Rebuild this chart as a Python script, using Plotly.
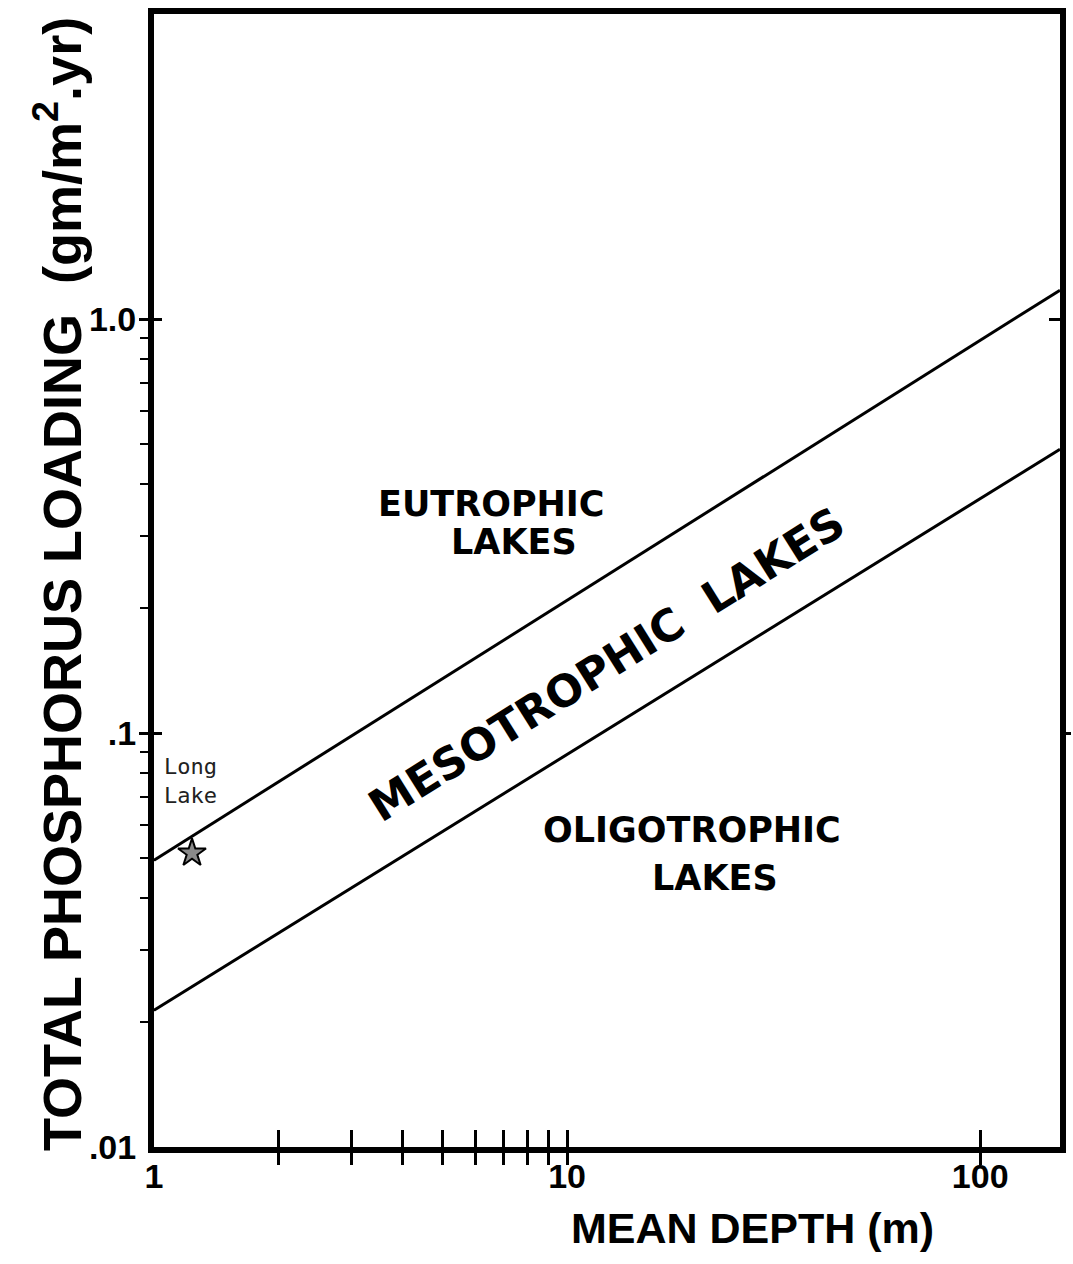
import math
import plotly.graph_objects as go

# ---- data ----
depth_range = [1, 156]                 # mean depth axis extent (m)
load_range = [0.01, 5.46]              # phosphorus loading axis extent
upper_x = [1, 156]                     # "dangerous" loading boundary
upper_y = [0.0493, 1.175]
lower_x = [1, 156]                     # "permissible" loading boundary
lower_y = [0.0214, 0.485]
lake_x = [1.236]                       # Long Lake
lake_y = [0.0513]
lake_name = ["Long<br>Lake"]

x_tick_vals = [1, 10, 100]
x_tick_text = ["1", "10", "100"]
x_mark_vals = [2, 3, 4, 5, 6, 7, 8, 9, 10, 100]
y_tick_vals = [0.01, 0.1, 1]
y_tick_text = [".01", ".1", "1.0"]
y_minor_vals = [0.02, 0.03, 0.04, 0.05, 0.06, 0.07, 0.08, 0.09,
                0.2, 0.3, 0.4, 0.5, 0.6, 0.7, 0.8, 0.9]
y_major_marks = [0.1, 1]

SANS = "Liberation Sans, Arial, Helvetica, sans-serif"
REGION = "DejaVu Sans, Verdana, sans-serif"

xr = [math.log10(v) for v in depth_range]
yr = [math.log10(v) for v in load_range]

fig = go.Figure()
fig.add_trace(go.Scatter(x=upper_x, y=upper_y, mode="lines",
                         line=dict(color="black", width=3), hoverinfo="skip"))
fig.add_trace(go.Scatter(x=lower_x, y=lower_y, mode="lines",
                         line=dict(color="black", width=3), hoverinfo="skip"))
fig.add_trace(go.Scatter(x=lake_x, y=lake_y, mode="markers",
                         marker=dict(symbol="star", size=21, color="#8a8a8a",
                                     line=dict(color="black", width=2)),
                         hoverinfo="skip"))
# invisible traces to activate overlay axes
fig.add_trace(go.Scatter(x=lake_x, y=lake_y, mode="markers", marker=dict(opacity=0),
                         xaxis="x2", yaxis="y2", hoverinfo="skip"))
fig.add_trace(go.Scatter(x=lake_x, y=lake_y, mode="markers", marker=dict(opacity=0),
                         xaxis="x", yaxis="y3", hoverinfo="skip"))

tickfont = dict(family=SANS, size=34, color="black", weight="bold")

L, R, T, B = 154, 13, 14, 117
fig.update_layout(
    width=1073, height=1264,
    margin=dict(l=L, r=R, t=T, b=B),
    paper_bgcolor="white", plot_bgcolor="white",
    showlegend=False,
    xaxis=dict(type="log", range=xr, showgrid=False, zeroline=False, automargin=False,
               showline=True, mirror=True, linecolor="black", linewidth=6,
               tickmode="array", tickvals=x_tick_vals, ticktext=x_tick_text,
               ticks="", tickfont=tickfont, ticklabelstandoff=-6,
               minor=dict(tickmode="array", tickvals=x_mark_vals, ticks="outside",
                          ticklen=12, tickwidth=2.5, tickcolor="black", showgrid=False)),
    xaxis2=dict(type="log", range=xr, overlaying="x", anchor="y", side="bottom",
                automargin=False,
                showgrid=False, zeroline=False, showline=False, showticklabels=False,
                tickmode="array", tickvals=x_mark_vals, ticks="inside",
                ticklen=17, tickwidth=2.5, tickcolor="black"),
    yaxis=dict(type="log", range=yr, showgrid=False, zeroline=False, automargin=False,
               showline=True, mirror=True, linecolor="black", linewidth=6,
               tickmode="array", tickvals=y_tick_vals, ticktext=y_tick_text,
               ticks="", tickfont=tickfont, ticklabelstandoff=5,
               minor=dict(tickmode="array", tickvals=y_minor_vals, ticks="outside",
                          ticklen=8, tickwidth=2, tickcolor="black", showgrid=False)),
    yaxis2=dict(type="log", range=yr, overlaying="y", anchor="x", side="left",
                automargin=False,
                showgrid=False, zeroline=False, showline=False, showticklabels=False,
                tickmode="array", tickvals=y_major_marks, ticks="inside",
                ticklen=8, tickwidth=2.5, tickcolor="black",
                minor=dict(tickmode="array", tickvals=y_major_marks, ticks="outside",
                           ticklen=14, tickwidth=2.5, tickcolor="black", showgrid=False)),
    yaxis3=dict(type="log", range=yr, overlaying="y", anchor="x", side="right",
                automargin=False,
                showgrid=False, zeroline=False, showline=False, showticklabels=False,
                tickmode="array", tickvals=[y_major_marks[1]], ticks="inside",
                ticklen=11, tickwidth=2.5, tickcolor="black",
                minor=dict(tickmode="array", tickvals=[y_major_marks[0]], ticks="outside",
                           ticklen=10, tickwidth=2.5, tickcolor="black", showgrid=False)),
)

W = 1073.0 - L - R
H = 1264.0 - T - B
def px(xp):
    return (xp - L) / W
def py(yp):
    return (1264.0 - B - yp) / H

ann = []
ann.append(dict(text="TOTAL PHOSPHORUS LOADING  (gm/m<sup>2</sup>.yr)",
                x=px(58), y=py(584), xref="paper", yref="paper",
                xanchor="center", yanchor="middle", textangle=-90, showarrow=False,
                font=dict(family=SANS, size=54, color="black", weight="bold")))
ann.append(dict(text="MEAN DEPTH (m)", x=px(752), y=py(1228), xref="paper", yref="paper",
                xanchor="center", yanchor="middle", showarrow=False,
                font=dict(family=SANS, size=43, color="black", weight="bold")))
rfont = dict(family=REGION, size=35, color="black", weight="bold")
ann.append(dict(text="EUTROPHIC", x=px(491), y=py(504), xref="paper", yref="paper",
                xanchor="center", yanchor="middle", showarrow=False, font=rfont))
ann.append(dict(text="LAKES", x=px(514), y=py(542), xref="paper", yref="paper",
                xanchor="center", yanchor="middle", showarrow=False, font=rfont))
ann.append(dict(text="OLIGOTROPHIC", x=px(692), y=py(830), xref="paper", yref="paper",
                xanchor="center", yanchor="middle", showarrow=False, font=rfont))
ann.append(dict(text="LAKES", x=px(715), y=py(878), xref="paper", yref="paper",
                xanchor="center", yanchor="middle", showarrow=False, font=rfont))
ann.append(dict(text="MESOTROPHIC  LAKES", x=px(606), y=py(664), xref="paper", yref="paper",
                xanchor="center", yanchor="middle", textangle=-32, showarrow=False,
                font=dict(family=REGION, size=44, color="black", weight="bold")))
ann.append(dict(text=lake_name[0], x=px(162), y=py(752), xref="paper", yref="paper",
                xanchor="left", yanchor="top", align="left", showarrow=False,
                font=dict(family="DejaVu Sans Mono, monospace", size=22, color="#222222")))
fig.update_layout(annotations=ann)

fig.write_html("out.html", config={"displayModeBar": False},
               post_script="document.body.style.margin='0px';")
